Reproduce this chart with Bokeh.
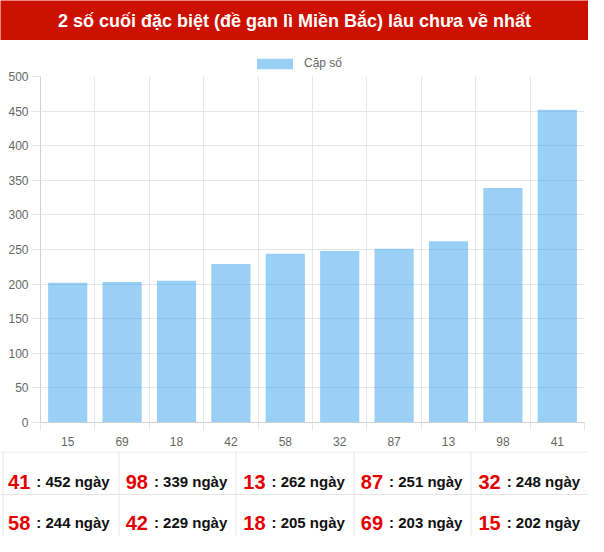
import numpy as np
from bokeh.plotting import figure
from bokeh.models import (FixedTicker, Label, Legend, LegendItem, Range1d,
                          ColumnDataSource)
from bokeh.layouts import column
from bokeh.embed import file_html
from bokeh.resources import INLINE
from bokeh.core.properties import value

# ---------------- data ----------------
TITLE = "2 số cuối đặc biệt (đề gan lì Miền Bắc) lâu chưa về nhất"
SERIES_NAME = "Cặp số"
UNIT = "ngày"
categories = ["15", "69", "18", "42", "58", "32", "87", "13", "98", "41"]
days = [202, 203, 205, 229, 244, 248, 251, 262, 339, 452]
y_ticks = [0, 50, 100, 150, 200, 250, 300, 350, 400, 450, 500]

# ---------------- style ----------------
FONT = "Liberation Sans"
W = 588
RED_BG = "#cc1100"
GRID = "#e6e6e6"
AXIS = "#d0d0d0"
LABEL = "#666666"
BAR = "#36a2eb"


def blank(height, bg="white"):
    f = figure(width=W, height=height, output_backend="svg",
               toolbar_location=None, x_range=Range1d(0, W),
               y_range=Range1d(height, 0), x_axis_type=None,
               y_axis_type=None, min_border=0, min_border_left=0,
               min_border_right=0, min_border_top=0, min_border_bottom=0)
    f.frame_align = False
    f.outline_line_color = None
    f.background_fill_color = bg
    f.border_fill_color = bg
    return f


# ---------------- title bar ----------------
t = blank(40, RED_BG)
t.add_layout(Label(x=W / 2, y=20, text=TITLE, text_align="center",
                   text_baseline="middle", text_font=FONT,
                   text_font_size="18px", text_font_style="bold",
                   text_color="white"))

# ---------------- legend row ----------------
LH = 30
lg = blank(LH)
# swatch renderer for the legend only (its single bar lies off-canvas)
swatch = lg.vbar(x=[-1000], top=[0], width=0.72, fill_color=BAR,
                 fill_alpha=0.5, line_color=None)
LEG_PAD = 5
legend = Legend(items=[LegendItem(label=SERIES_NAME, renderers=[swatch])],
                orientation="horizontal", location=(252, 0),
                glyph_width=45, glyph_height=13, label_height=13,
                label_standoff=7, padding=LEG_PAD, margin=0,
                border_line_color=None, background_fill_alpha=0,
                label_text_font=FONT, label_text_font_size="12px",
                label_text_color=LABEL)
lg.add_layout(legend)

# ---------------- bar chart ----------------
CH = 381
n = len(categories)
xc = np.arange(n) + 0.5
src = ColumnDataSource(dict(x=xc, top=days, cat=categories))

p = figure(width=W, height=CH, output_backend="svg", toolbar_location=None,
           x_range=Range1d(0, n), y_range=Range1d(y_ticks[0], y_ticks[-1]),
           min_border_left=40, min_border_right=4, min_border_top=6,
           min_border_bottom=29)
p.frame_align = False
p.outline_line_color = None
p.background_fill_color = "white"
p.border_fill_color = "white"

r = p.vbar(x="x", top="top", width=0.72, source=src,
           fill_color=BAR, fill_alpha=0.5, line_color=None)

# x axis: labels at centres, tick marks at category boundaries
p.xaxis.ticker = FixedTicker(ticks=list(xc), minor_ticks=list(range(n + 1)))
p.xaxis.major_label_overrides = {float(x): c for x, c in zip(xc, categories)}
p.xaxis.major_tick_out = 0
p.xaxis.major_tick_in = 0
p.xaxis.minor_tick_out = 8
p.xaxis.minor_tick_in = 0
p.xaxis.minor_tick_line_color = GRID
p.xaxis.axis_line_color = AXIS
p.xaxis.major_label_standoff = 6
p.xaxis.major_label_text_font = FONT
p.xaxis.major_label_text_font_size = "12px"
p.xaxis.major_label_text_color = LABEL
p.xgrid.ticker = FixedTicker(ticks=list(range(n + 1)))
p.xgrid.grid_line_color = GRID

# y axis
p.yaxis.ticker = FixedTicker(ticks=y_ticks)
p.yaxis.major_tick_out = 9
p.yaxis.major_tick_in = 0
p.yaxis.minor_tick_out = 0
p.yaxis.minor_tick_in = 0
p.yaxis.major_tick_line_color = GRID
p.yaxis.axis_line_color = AXIS
p.yaxis.major_label_standoff = 3
p.yaxis.major_label_text_font = FONT
p.yaxis.major_label_text_font_size = "12px"
p.yaxis.major_label_text_color = LABEL
p.ygrid.grid_line_color = GRID

# ---------------- table ----------------
TH = 85
ROW_H = 43
order = np.argsort(days)[::-1]
tab_nums = [categories[i] for i in order]
tab_days = [days[i] for i in order]
ncol = 5
cw = W / ncol
cols = np.arange(len(tab_nums)) % ncol
rows = np.arange(len(tab_nums)) // ncol
cx = cw * (cols + 0.5)
base_y = np.where(rows == 0, 30, ROW_H + 28)

tb = blank(TH)
hy = [0.5, ROW_H]
tb.segment(x0=[0, 0], y0=hy, x1=[W, W], y1=hy, line_color=GRID, line_width=1)
vx = [2.5] + [round(cw * k) + 0.5 for k in range(1, ncol)]
tb.segment(x0=vx, y0=[0] * len(vx), x1=vx, y1=[TH] * len(vx),
           line_color=GRID, line_width=1)

tsrc = ColumnDataSource(dict(
    xn=cx - 29, xr=cx - 23, y=base_y,
    num=tab_nums,
    rest=[f": {d} {UNIT}" for d in tab_days]))
tb.text(x="xn", y="y", text="num", source=tsrc, text_align="right",
        text_baseline="alphabetic", text_font=value(FONT),
        text_font_size="20px", text_font_style="bold", text_color="#e50000")
tb.text(x="xr", y="y", text="rest", source=tsrc, text_align="left",
        text_baseline="alphabetic", text_font=value(FONT),
        text_font_size="15px", text_font_style="bold", text_color="#111111")

layout = column(t, lg, p, tb, spacing=0)
open("out.html", "w").write(file_html(layout, INLINE))
